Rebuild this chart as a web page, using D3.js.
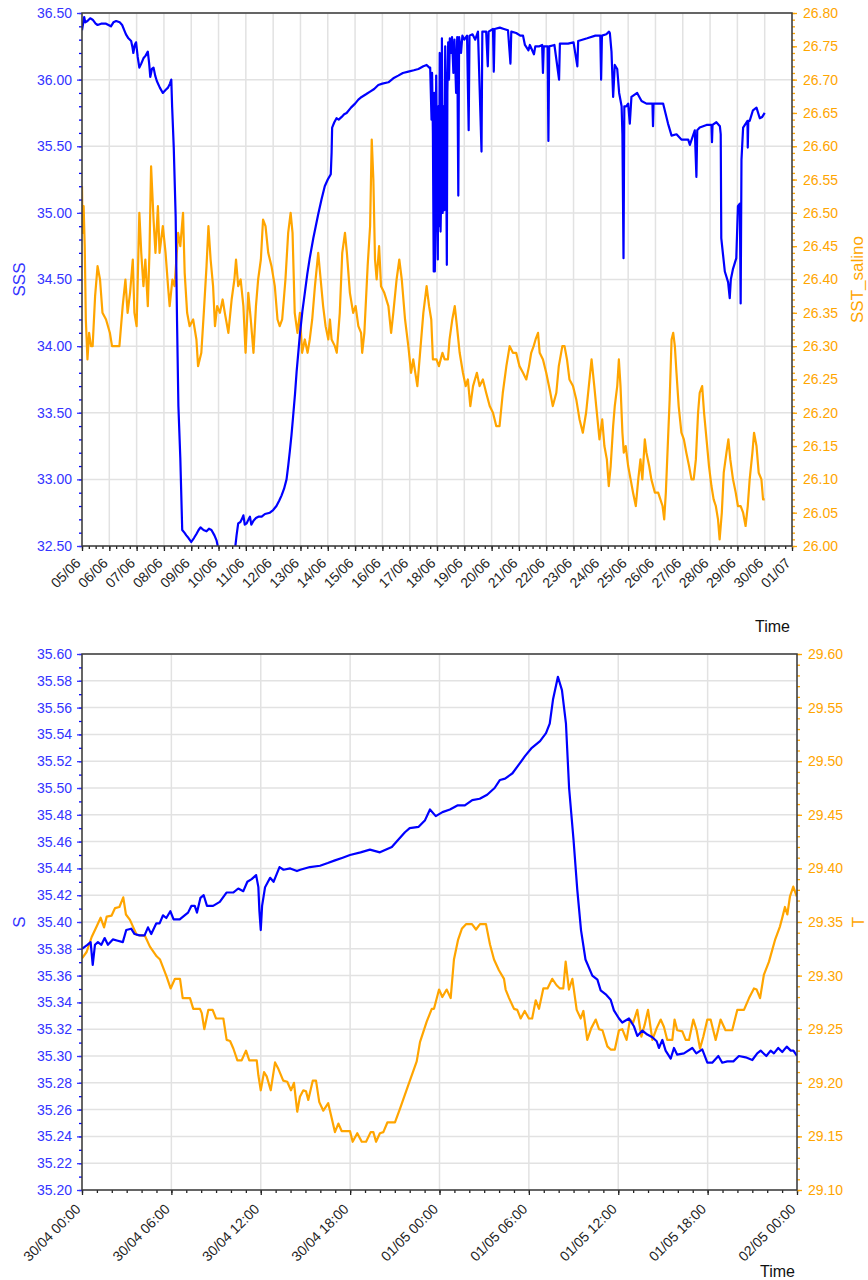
<!DOCTYPE html>
<html>
<head>
<meta charset="utf-8">
<script src="https://cdn.jsdelivr.net/npm/d3@7"></script>
<style>
body { margin: 0; background: #fff; }
svg text { font-family: "Liberation Sans", Arial, Helvetica, sans-serif; }
</style>
</head>
<body>
<div id="chart"></div>
<script>
/*global d3*/

// ---- top chart: days since 05/06 00:00, value ----
const sssPoints = [
	[0.00,36.37],[0.08,36.47],[0.12,36.43],[0.20,36.44],[0.30,36.46],[0.39,36.45],[0.50,36.42],[0.57,36.41],
	[0.70,36.42],[0.88,36.42],[1.06,36.40],[1.15,36.43],[1.25,36.44],[1.38,36.43],[1.47,36.41],[1.55,36.37],
	[1.61,36.34],[1.70,36.31],[1.80,36.29],[1.85,36.24],[1.88,36.20],[1.93,36.26],[1.98,36.28],[2.04,36.17],
	[2.10,36.09],[2.17,36.12],[2.25,36.16],[2.33,36.18],[2.41,36.21],[2.46,36.12],[2.50,36.02],[2.56,36.08],
	[2.62,36.09],[2.68,36.03],[2.74,35.99],[2.85,35.94],[2.96,35.90],[3.05,35.92],[3.15,35.94],[3.22,35.97],
	[3.27,36.00],[3.30,35.80],[3.36,35.49],[3.43,34.97],[3.48,34.19],[3.53,33.55],[3.60,33.16],[3.67,32.62],
	[3.75,32.60],[3.82,32.58],[3.90,32.56],[4.00,32.53],[4.10,32.56],[4.19,32.59],[4.27,32.62],[4.34,32.64],
	[4.45,32.62],[4.56,32.61],[4.65,32.63],[4.74,32.62],[4.85,32.58],[4.93,32.54],[5.00,32.47],[5.05,32.40],
	[5.50,32.40],[5.60,32.47],[5.66,32.58],[5.72,32.67],[5.80,32.68],[5.85,32.70],[5.91,32.73],[5.96,32.66],
	[6.03,32.67],[6.10,32.70],[6.15,32.72],[6.20,32.66],[6.28,32.69],[6.37,32.71],[6.46,32.72],[6.58,32.72],
	[6.70,32.74],[6.88,32.75],[7.00,32.77],[7.12,32.80],[7.22,32.84],[7.31,32.88],[7.40,32.93],[7.49,33.00],
	[7.55,33.10],[7.61,33.21],[7.67,33.33],[7.73,33.47],[7.80,33.64],[7.86,33.81],[7.92,33.95],[7.98,34.09],
	[8.07,34.26],[8.16,34.40],[8.25,34.54],[8.34,34.66],[8.47,34.81],[8.56,34.90],[8.65,34.99],[8.77,35.10],
	[8.89,35.20],[9.00,35.25],[9.11,35.29],[9.14,35.45],[9.16,35.64],[9.24,35.68],[9.32,35.71],[9.40,35.70],
	[9.51,35.72],[9.60,35.74],[9.69,35.75],[9.85,35.79],[10.00,35.82],[10.12,35.85],[10.24,35.87],[10.40,35.89],
	[10.55,35.91],[10.70,35.93],[10.85,35.96],[11.00,35.97],[11.22,35.98],[11.40,36.01],[11.58,36.03],[11.75,36.05],
	[11.95,36.06],[12.15,36.07],[12.32,36.08],[12.50,36.10],[12.62,36.11],[12.72,36.09],[12.75,36.09],[12.80,35.70],
	[12.82,36.05],[12.85,35.60],[12.88,34.56],[12.90,35.90],[12.92,34.56],[12.95,35.00],[12.97,36.03],[13.00,35.40],
	[13.03,34.65],[13.05,35.80],[13.07,34.90],[13.10,36.20],[13.13,34.86],[13.16,35.20],[13.18,36.31],[13.21,35.00],
	[13.24,35.80],[13.27,35.02],[13.30,36.25],[13.33,35.70],[13.36,34.61],[13.38,35.90],[13.41,36.28],[13.44,36.00],
	[13.47,36.31],[13.52,36.20],[13.55,36.32],[13.60,36.05],[13.64,36.30],[13.70,35.90],[13.74,36.32],[13.78,35.13],
	[13.81,36.32],[13.88,36.20],[13.93,36.33],[14.00,36.30],[14.10,36.33],[14.16,35.62],[14.19,36.33],[14.30,36.34],
	[14.40,36.30],[14.50,36.36],[14.63,35.46],[14.66,36.36],[14.80,36.36],[14.86,36.10],[14.89,36.36],[15.05,36.38],
	[15.08,36.06],[15.11,36.38],[15.30,36.39],[15.45,36.38],[15.60,36.37],[15.69,36.12],[15.72,36.36],[15.90,36.35],
	[16.05,36.33],[16.15,36.33],[16.22,36.26],[16.35,36.22],[16.40,36.26],[16.55,36.19],[16.60,36.25],[16.75,36.25],
	[16.85,36.26],[16.88,36.05],[16.91,36.25],[17.05,36.25],[17.08,35.54],[17.11,36.25],[17.30,36.26],[17.47,36.00],
	[17.50,36.27],[17.80,36.27],[18.00,36.28],[18.14,36.10],[18.17,36.29],[18.50,36.31],[18.80,36.33],[18.98,36.33],
	[19.01,36.00],[19.04,36.33],[19.20,36.34],[19.30,36.36],[19.33,36.35],[19.39,36.21],[19.45,35.87],[19.51,36.11],
	[19.60,36.08],[19.67,35.90],[19.76,35.80],[19.79,35.59],[19.83,34.66],[19.86,35.80],[19.93,35.80],[20.00,35.82],
	[20.06,35.67],[20.12,35.87],[20.33,35.90],[20.49,35.84],[20.67,35.82],[20.89,35.82],[20.91,35.65],[20.93,35.82],
	[21.28,35.82],[21.46,35.67],[21.59,35.58],[21.77,35.59],[21.95,35.55],[22.20,35.55],[22.26,35.51],[22.44,35.62],
	[22.50,35.27],[22.53,35.62],[22.62,35.64],[22.87,35.66],[23.05,35.66],[23.07,35.53],[23.09,35.66],[23.23,35.68],
	[23.36,35.65],[23.39,35.59],[23.41,34.81],[23.54,34.56],[23.66,34.48],[23.70,34.40],[23.72,34.36],[23.76,34.50],
	[23.84,34.58],[23.96,34.66],[24.02,35.05],[24.09,35.07],[24.12,34.32],[24.15,35.40],[24.21,35.64],[24.37,35.69],
	[24.38,35.49],[24.40,35.69],[24.45,35.69],[24.57,35.77],[24.70,35.79],[24.82,35.71],[24.91,35.72],[25.00,35.75]
];

const sstPoints = [
	[0.00,26.54],[0.02,26.47],[0.06,26.51],[0.10,26.45],[0.14,26.34],[0.20,26.28],[0.26,26.32],[0.33,26.30],
	[0.39,26.30],[0.48,26.375],[0.57,26.42],[0.66,26.40],[0.75,26.35],[0.88,26.34],[1.02,26.32],[1.10,26.30],
	[1.18,26.30],[1.37,26.30],[1.49,26.36],[1.59,26.40],[1.67,26.35],[1.76,26.38],[1.86,26.43],[1.92,26.35],
	[2.00,26.33],[2.10,26.50],[2.17,26.44],[2.25,26.39],[2.32,26.43],[2.41,26.36],[2.47,26.44],[2.53,26.57],
	[2.62,26.49],[2.69,26.44],[2.78,26.51],[2.84,26.44],[2.96,26.48],[3.06,26.44],[3.15,26.39],[3.21,26.36],
	[3.31,26.40],[3.39,26.39],[3.52,26.47],[3.60,26.45],[3.70,26.50],[3.76,26.41],[3.85,26.35],[3.94,26.33],
	[4.07,26.34],[4.19,26.31],[4.25,26.27],[4.37,26.29],[4.46,26.35],[4.56,26.42],[4.63,26.48],[4.71,26.43],
	[4.80,26.39],[4.87,26.33],[4.95,26.36],[5.05,26.35],[5.15,26.37],[5.23,26.35],[5.36,26.32],[5.48,26.37],
	[5.58,26.40],[5.64,26.43],[5.72,26.39],[5.81,26.40],[5.91,26.36],[5.99,26.29],[6.09,26.38],[6.18,26.34],
	[6.28,26.29],[6.37,26.36],[6.45,26.40],[6.55,26.43],[6.63,26.49],[6.72,26.48],[6.82,26.44],[6.94,26.42],
	[7.06,26.39],[7.16,26.34],[7.24,26.33],[7.33,26.34],[7.45,26.40],[7.55,26.47],[7.64,26.50],[7.71,26.47],
	[7.79,26.35],[7.89,26.32],[7.98,26.35],[8.06,26.29],[8.16,26.31],[8.26,26.29],[8.34,26.31],[8.43,26.34],
	[8.53,26.39],[8.65,26.44],[8.74,26.40],[8.83,26.36],[8.92,26.33],[9.02,26.31],[9.08,26.34],[9.14,26.31],
	[9.26,26.30],[9.33,26.29],[9.44,26.35],[9.53,26.44],[9.63,26.47],[9.70,26.44],[9.81,26.38],[9.93,26.35],
	[10.02,26.36],[10.12,26.33],[10.22,26.32],[10.26,26.29],[10.34,26.32],[10.46,26.42],[10.55,26.48],[10.61,26.61],
	[10.67,26.55],[10.73,26.43],[10.79,26.40],[10.88,26.45],[10.95,26.39],[11.07,26.38],[11.22,26.36],[11.32,26.32],
	[11.40,26.35],[11.52,26.40],[11.62,26.43],[11.71,26.40],[11.83,26.34],[11.95,26.30],[12.05,26.26],[12.13,26.28],
	[12.28,26.24],[12.38,26.29],[12.50,26.35],[12.62,26.39],[12.71,26.36],[12.79,26.34],[12.85,26.28],[12.98,26.28],
	[13.07,26.27],[13.20,26.29],[13.28,26.28],[13.40,26.28],[13.46,26.31],[13.56,26.34],[13.65,26.36],[13.73,26.33],
	[13.83,26.29],[13.95,26.26],[14.05,26.24],[14.13,26.25],[14.22,26.21],[14.32,26.24],[14.46,26.26],[14.56,26.24],
	[14.68,26.25],[14.80,26.23],[14.93,26.21],[15.05,26.20],[15.17,26.18],[15.29,26.18],[15.41,26.23],[15.54,26.27],
	[15.66,26.30],[15.78,26.29],[15.90,26.29],[16.02,26.27],[16.15,26.26],[16.27,26.25],[16.37,26.27],[16.45,26.29],
	[16.54,26.30],[16.61,26.31],[16.70,26.32],[16.76,26.29],[16.88,26.28],[17.00,26.26],[17.15,26.23],[17.24,26.21],
	[17.37,26.23],[17.46,26.27],[17.59,26.30],[17.67,26.30],[17.76,26.28],[17.85,26.25],[17.98,26.24],[18.10,26.22],
	[18.22,26.19],[18.34,26.17],[18.46,26.20],[18.56,26.24],[18.66,26.28],[18.76,26.24],[18.83,26.21],[18.95,26.16],
	[19.05,26.19],[19.13,26.15],[19.22,26.13],[19.29,26.09],[19.36,26.12],[19.45,26.18],[19.51,26.21],[19.60,26.24],
	[19.66,26.28],[19.72,26.24],[19.79,26.17],[19.84,26.14],[19.91,26.15],[20.00,26.12],[20.09,26.10],[20.18,26.08],
	[20.28,26.06],[20.37,26.10],[20.45,26.13],[20.52,26.10],[20.61,26.16],[20.67,26.14],[20.77,26.12],[20.85,26.10],
	[20.98,26.08],[21.10,26.08],[21.18,26.07],[21.26,26.06],[21.32,26.04],[21.38,26.08],[21.46,26.16],[21.52,26.22],
	[21.59,26.31],[21.65,26.32],[21.71,26.30],[21.77,26.26],[21.85,26.21],[21.95,26.17],[22.04,26.16],[22.13,26.14],
	[22.23,26.12],[22.32,26.10],[22.40,26.10],[22.48,26.13],[22.56,26.20],[22.62,26.23],[22.71,26.24],[22.78,26.20],
	[22.87,26.16],[22.96,26.12],[23.05,26.09],[23.13,26.07],[23.21,26.06],[23.29,26.04],[23.35,26.01],[23.43,26.05],
	[23.50,26.11],[23.60,26.14],[23.67,26.16],[23.74,26.13],[23.84,26.10],[23.94,26.08],[24.02,26.06],[24.12,26.06],
	[24.21,26.05],[24.30,26.03],[24.38,26.06],[24.45,26.10],[24.55,26.14],[24.61,26.17],[24.70,26.15],[24.78,26.11],
	[24.88,26.10],[24.94,26.07],[25.00,26.07]
];

// ---- bottom chart: hours since 30/04 00:00, value ----
const sPoints = [
	[0,35.380],[0.36,35.383],[0.58,35.385],[0.72,35.368],[0.87,35.383],[1.07,35.385],[1.3,35.383],[1.52,35.388],
	[1.74,35.383],[2.07,35.387],[2.4,35.386],[2.74,35.385],[2.97,35.394],[3.3,35.395],[3.53,35.391],[3.86,35.390],
	[4.2,35.390],[4.43,35.396],[4.65,35.391],[4.99,35.399],[5.21,35.399],[5.44,35.405],[5.66,35.403],[5.93,35.408],
	[6.15,35.402],[6.56,35.402],[6.89,35.405],[7.12,35.407],[7.34,35.412],[7.57,35.412],[7.72,35.407],[7.95,35.418],
	[8.17,35.420],[8.39,35.412],[8.8,35.412],[9.25,35.415],[9.7,35.422],[10.15,35.422],[10.49,35.425],[10.83,35.423],
	[11.1,35.430],[11.39,35.432],[11.69,35.435],[11.84,35.426],[11.91,35.408],[12.0,35.394],[12.09,35.412],[12.29,35.426],
	[12.63,35.433],[12.86,35.430],[13.26,35.441],[13.53,35.439],[13.98,35.440],[14.43,35.438],[14.65,35.439],[15.3,35.441],
	[15.98,35.442],[16.5,35.444],[16.98,35.446],[17.5,35.448],[17.99,35.450],[18.7,35.452],[19.33,35.454],[20.0,35.452],
	[20.8,35.456],[21.2,35.461],[21.68,35.467],[22.0,35.470],[22.6,35.471],[23.03,35.476],[23.36,35.484],[23.75,35.479],
	[24.2,35.482],[24.7,35.484],[25.2,35.487],[25.7,35.487],[26.2,35.491],[26.7,35.492],[27.2,35.495],[27.7,35.500],
	[28.06,35.506],[28.4,35.507],[28.9,35.511],[29.3,35.517],[29.75,35.524],[30.2,35.530],[30.75,35.535],[31.15,35.541],
	[31.4,35.548],[31.62,35.566],[31.95,35.583],[32.22,35.573],[32.49,35.548],[32.7,35.500],[33.0,35.461],[33.25,35.424],
	[33.5,35.394],[33.8,35.372],[34.26,35.360],[34.6,35.357],[34.82,35.349],[35.16,35.346],[35.49,35.342],[35.71,35.334],
	[36.05,35.328],[36.27,35.325],[36.72,35.328],[37.06,35.322],[37.28,35.315],[37.62,35.319],[37.95,35.316],[38.29,35.314],
	[38.58,35.311],[38.73,35.306],[38.96,35.312],[39.18,35.304],[39.52,35.298],[39.74,35.306],[39.96,35.301],[40.41,35.302],
	[40.97,35.306],[41.24,35.302],[41.64,35.305],[41.98,35.295],[42.31,35.295],[42.72,35.300],[42.98,35.295],[43.32,35.296],
	[43.73,35.296],[44.1,35.300],[44.55,35.299],[45.0,35.297],[45.33,35.302],[45.56,35.304],[45.94,35.300],[46.23,35.304],
	[46.45,35.302],[46.74,35.306],[47.01,35.303],[47.31,35.307],[47.58,35.304],[47.76,35.304],[48.0,35.300]
];

const tPoints = [
	[0,29.316],[0.31,29.322],[0.65,29.336],[0.99,29.346],[1.25,29.354],[1.48,29.345],[1.66,29.355],[1.99,29.356],
	[2.22,29.363],[2.51,29.364],[2.77,29.373],[2.95,29.357],[3.22,29.352],[3.67,29.338],[4.23,29.337],[4.56,29.327],
	[5.01,29.318],[5.24,29.315],[5.68,29.299],[5.95,29.288],[6.24,29.297],[6.58,29.297],[6.76,29.279],[7.25,29.279],
	[7.47,29.269],[7.92,29.269],[8.04,29.265],[8.21,29.250],[8.48,29.268],[8.77,29.268],[9.0,29.260],[9.49,29.260],
	[9.71,29.240],[9.94,29.239],[10.16,29.232],[10.43,29.221],[10.72,29.221],[11.01,29.230],[11.23,29.221],[11.73,29.221],
	[11.84,29.207],[12.0,29.193],[12.22,29.210],[12.4,29.206],[12.67,29.193],[12.96,29.219],[13.18,29.213],[13.51,29.202],
	[13.78,29.201],[14.03,29.193],[14.23,29.200],[14.45,29.173],[14.63,29.187],[14.86,29.193],[15.04,29.192],[15.19,29.184],
	[15.49,29.202],[15.71,29.202],[15.93,29.182],[16.2,29.174],[16.53,29.181],[16.98,29.154],[17.21,29.162],[17.43,29.155],
	[17.99,29.155],[18.17,29.145],[18.48,29.153],[18.78,29.145],[19.07,29.145],[19.38,29.154],[19.56,29.154],[19.74,29.145],
	[20.0,29.153],[20.23,29.154],[20.5,29.163],[21.01,29.163],[21.35,29.176],[21.91,29.198],[22.47,29.220],[22.69,29.238],
	[23.14,29.257],[23.48,29.269],[23.63,29.269],[23.97,29.287],[24.19,29.280],[24.48,29.287],[24.75,29.279],[24.97,29.315],
	[25.24,29.333],[25.51,29.344],[25.78,29.348],[26.18,29.348],[26.45,29.343],[26.72,29.348],[27.12,29.348],[27.39,29.329],
	[27.66,29.315],[27.99,29.305],[28.33,29.297],[28.44,29.287],[28.67,29.279],[29.0,29.269],[29.22,29.268],[29.45,29.260],
	[29.72,29.267],[30.0,29.260],[30.22,29.260],[30.46,29.277],[30.68,29.269],[30.97,29.288],[31.25,29.288],[31.57,29.297],
	[31.86,29.291],[32.09,29.288],[32.31,29.288],[32.47,29.313],[32.69,29.287],[32.92,29.297],[33.21,29.268],[33.48,29.260],
	[33.66,29.267],[33.92,29.240],[34.19,29.251],[34.49,29.259],[34.71,29.250],[34.94,29.249],[35.27,29.234],[35.49,29.231],
	[35.77,29.231],[36.05,29.249],[36.27,29.250],[36.56,29.240],[36.79,29.259],[37.0,29.256],[37.28,29.268],[37.55,29.243],
	[37.77,29.254],[38.0,29.268],[38.29,29.240],[38.58,29.251],[38.85,29.259],[39.07,29.252],[39.29,29.240],[39.63,29.240],
	[39.78,29.259],[39.96,29.249],[40.3,29.248],[40.53,29.240],[40.75,29.240],[41.04,29.259],[41.26,29.249],[41.49,29.232],
	[41.71,29.243],[41.98,29.259],[42.2,29.259],[42.54,29.240],[42.87,29.259],[43.2,29.249],[43.65,29.249],[43.99,29.268],
	[44.44,29.268],[44.78,29.279],[45.11,29.288],[45.29,29.287],[45.52,29.279],[45.78,29.301],[46.12,29.313],[46.52,29.333],
	[46.86,29.346],[47.03,29.355],[47.19,29.364],[47.35,29.357],[47.53,29.374],[47.75,29.383],[47.98,29.374]
];

// axis ticks
const sssTicks = [32.5, 33.0, 33.5, 34.0, 34.5, 35.0, 35.5, 36.0, 36.5];
const sstTicks = [26.00, 26.05, 26.10, 26.15, 26.20, 26.25, 26.30, 26.35, 26.40, 26.45, 26.50, 26.55, 26.60, 26.65, 26.70, 26.75, 26.80];
const sTicks = [35.20, 35.22, 35.24, 35.26, 35.28, 35.30, 35.32, 35.34, 35.36, 35.38, 35.40, 35.42, 35.44, 35.46, 35.48, 35.50, 35.52, 35.54, 35.56, 35.58, 35.60];
const tTicks = [29.10, 29.15, 29.20, 29.25, 29.30, 29.35, 29.40, 29.45, 29.50, 29.55, 29.60];

const BLUE = "#0000ff", BLUE_TEXT = "#3434ff", ORANGE = "#ffa500", GRID = "#e2e2e2", FRAME = "#3a3a3a";

const topStart = new Date(Date.UTC(2019, 5, 5)), topEnd = new Date(Date.UTC(2019, 6, 1));
const botStart = new Date(Date.UTC(2019, 3, 30)), botEnd = new Date(Date.UTC(2019, 4, 2));

let svg = d3.select("#chart")
	.append("svg")
	.attr("width", 868)
	.attr("height", 1280);

let toSeries = function(points, start, unit) {
	return points.map(p => ({ t: new Date(start.getTime() + p[0] * unit), v: p[1] }));
};

let styleAxis = function(sel, color, fontSize) {
	sel.select(".domain").remove();
	sel.selectAll(".tick line").style("stroke", color).style("stroke-width", 1.3);
	sel.selectAll(".tick text")
		.style("fill", color)
		.style("font-size", fontSize + "px")
		.style("font-family", '"Liberation Sans", Arial, sans-serif');
};

let initDualAxisChart = function(cfg) {

	let g = svg.append("g")
		.attr("transform", "translate(" + cfg.left + "," + cfg.top + ")");

	let x = d3.scaleUtc().domain([cfg.xStart, cfg.xEnd]).range([0, cfg.width]);
	let yL = d3.scaleLinear().domain(d3.extent(cfg.leftTicks)).range([cfg.height, 0]);
	let yR = d3.scaleLinear().domain(d3.extent(cfg.rightTicks)).range([cfg.height, 0]);

	let xMajor = cfg.xMajor.range(cfg.xStart, new Date(cfg.xEnd.getTime() + 1));
	let xMinor = cfg.xMinor.range(cfg.xStart, new Date(cfg.xEnd.getTime() + 1));

	// gridlines
	g.append("g").selectAll("line")
		.data(xMajor)
		.enter().append("line")
		.attr("x1", d => x(d)).attr("x2", d => x(d))
		.attr("y1", 0).attr("y2", cfg.height)
		.style("stroke", GRID).style("stroke-width", 1.5);

	g.append("g").selectAll("line")
		.data(cfg.leftTicks)
		.enter().append("line")
		.attr("x1", 0).attr("x2", cfg.width)
		.attr("y1", d => yL(d)).attr("y2", d => yL(d))
		.style("stroke", GRID).style("stroke-width", 1.5);

	// lines
	let clipId = cfg.id + "-clip";
	g.append("clipPath").attr("id", clipId)
		.append("rect").attr("width", cfg.width).attr("height", cfg.height);

	let lineR = d3.line().x(d => x(d.t)).y(d => yR(d.v));
	let lineL = d3.line().x(d => x(d.t)).y(d => yL(d.v));

	g.append("path")
		.datum(cfg.rightSeries)
		.attr("clip-path", "url(#" + clipId + ")")
		.attr("d", lineR)
		.style("fill", "none").style("stroke", ORANGE).style("stroke-width", 2.2)
		.style("stroke-linejoin", "round");

	g.append("path")
		.datum(cfg.leftSeries)
		.attr("clip-path", "url(#" + clipId + ")")
		.attr("d", lineL)
		.style("fill", "none").style("stroke", BLUE).style("stroke-width", 2.2)
		.style("stroke-linejoin", "round");

	// x axis (minor + major)
	g.append("g")
		.attr("transform", "translate(0," + cfg.height + ")")
		.call(d3.axisBottom(x).tickValues(xMinor).tickSize(3).tickFormat(""))
		.call(s => styleAxis(s, "#222", 14));

	let xAxis = g.append("g")
		.attr("transform", "translate(0," + cfg.height + ")")
		.call(d3.axisBottom(x).tickValues(xMajor).tickSize(5).tickFormat(d3.utcFormat(cfg.xFormat)))
		.call(s => styleAxis(s, "#222", 14));

	xAxis.selectAll(".tick text")
		.attr("x", 0).attr("y", 0).attr("dy", 0)
		.style("text-anchor", "end")
		.attr("transform", "translate(-1," + cfg.labelDrop + ") rotate(-45)");

	// left axis
	g.append("g")
		.call(d3.axisLeft(yL).tickValues(cfg.leftMinor).tickSize(3).tickFormat(""))
		.call(s => styleAxis(s, BLUE, 14));
	g.append("g")
		.call(d3.axisLeft(yL).tickValues(cfg.leftTicks).tickSize(5).tickPadding(5).tickFormat(d3.format(".2f")))
		.call(s => styleAxis(s, BLUE_TEXT, 14));

	// right axis
	g.append("g")
		.attr("transform", "translate(" + cfg.width + ",0)")
		.call(d3.axisRight(yR).tickValues(cfg.rightMinor).tickSize(3).tickFormat(""))
		.call(s => styleAxis(s, ORANGE, 14));
	g.append("g")
		.attr("transform", "translate(" + cfg.width + ",0)")
		.call(d3.axisRight(yR).tickValues(cfg.rightTicks).tickSize(5).tickPadding(6).tickFormat(d3.format(".2f")))
		.call(s => styleAxis(s, ORANGE, 14));

	// frame
	g.append("rect")
		.attr("width", cfg.width).attr("height", cfg.height)
		.style("fill", "none").style("stroke", FRAME).style("stroke-width", 1.5);

	// axis titles
	g.append("text")
		.attr("transform", "translate(" + (-cfg.left + 19) + "," + cfg.height / 2 + ") rotate(-90)")
		.attr("dy", "0.35em")
		.style("text-anchor", "middle").style("font-size", "17px").style("fill", BLUE_TEXT)
		.text(cfg.leftLabel);

	g.append("text")
		.attr("transform", "translate(" + (cfg.rightLabelX - cfg.left) + "," + cfg.height / 2 + ") rotate(-90)")
		.attr("dy", "0.35em")
		.style("text-anchor", "middle").style("font-size", "17px").style("fill", ORANGE)
		.text(cfg.rightLabel);

	g.append("text")
		.attr("x", cfg.timeX - cfg.left).attr("y", cfg.timeY - cfg.top)
		.style("text-anchor", "end").style("font-size", "16px").style("fill", "#111")
		.text("Time");
};

initDualAxisChart({
	id: "top",
	left: 82, top: 13, width: 710, height: 533,
	xStart: topStart, xEnd: topEnd,
	xMajor: d3.utcDay.every(1), xMinor: d3.utcHour.every(6),
	xFormat: "%d/%m", labelDrop: 18,
	leftTicks: sssTicks, leftMinor: d3.range(325, 366).map(v => v / 10),
	rightTicks: sstTicks, rightMinor: d3.range(2600, 2681).map(v => v / 100),
	leftSeries: toSeries(sssPoints, topStart, 864e5),
	rightSeries: toSeries(sstPoints, topStart, 864e5),
	leftLabel: "SSS", rightLabel: "SST_salino", rightLabelX: 857,
	timeX: 790, timeY: 632
});

initDualAxisChart({
	id: "bottom",
	left: 82, top: 654, width: 715, height: 536,
	xStart: botStart, xEnd: botEnd,
	xMajor: d3.utcHour.every(6), xMinor: d3.utcHour.every(1),
	xFormat: "%d/%m %H:%M", labelDrop: 20,
	leftTicks: sTicks, leftMinor: d3.range(3520, 3561).map(v => v / 100),
	rightTicks: tTicks, rightMinor: d3.range(2910, 2961).map(v => v / 100),
	leftSeries: toSeries(sPoints, botStart, 36e5),
	rightSeries: toSeries(tPoints, botStart, 36e5),
	leftLabel: "S", rightLabel: "T", rightLabelX: 858,
	timeX: 795, timeY: 1277
});
</script>
</body>
</html>
